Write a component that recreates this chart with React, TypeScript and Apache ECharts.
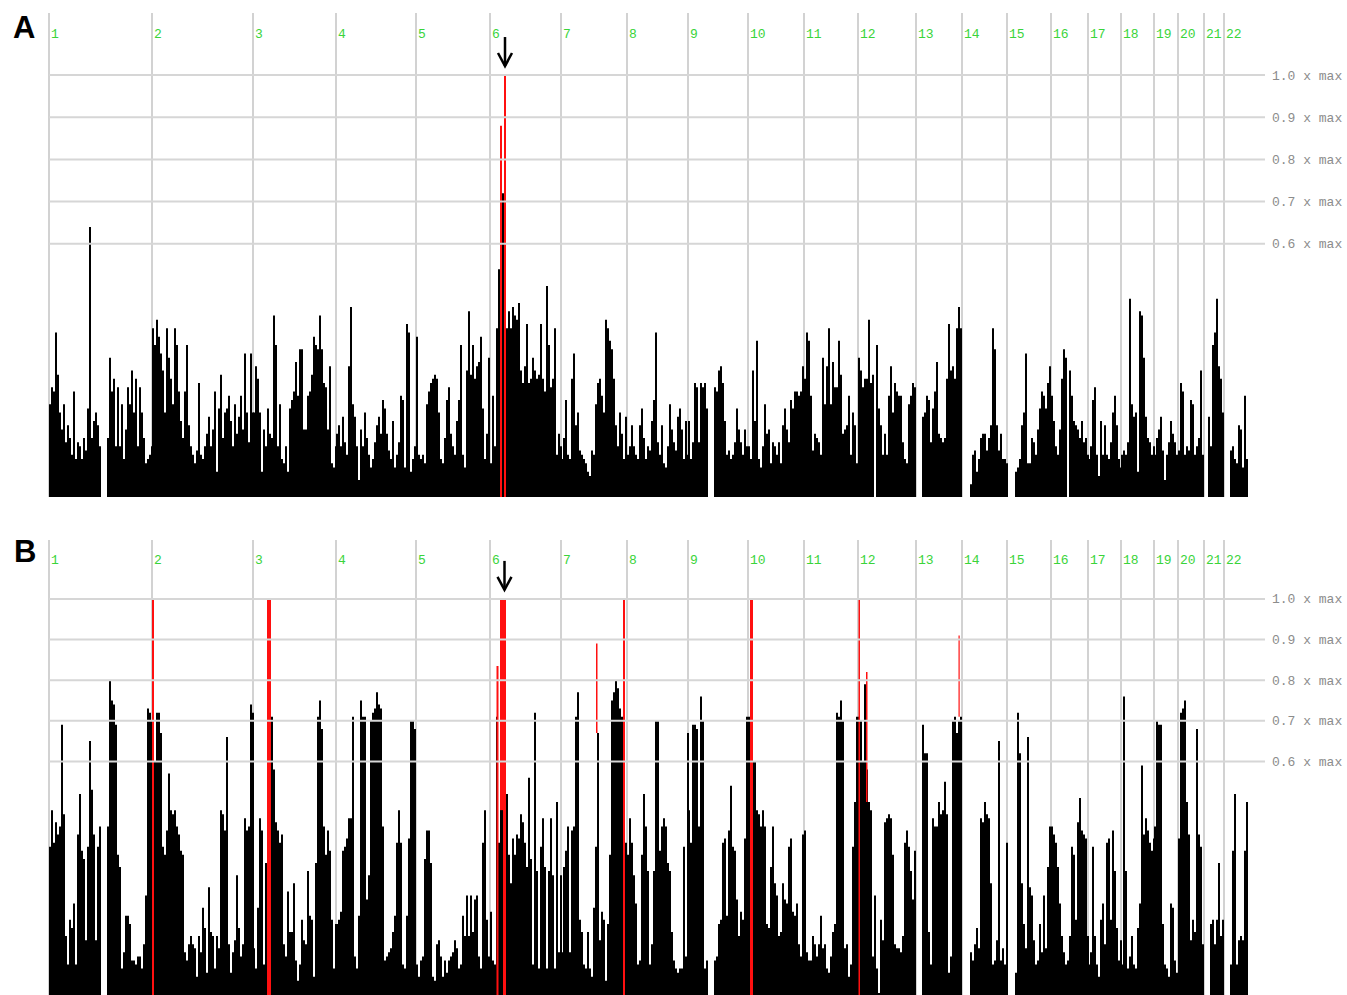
import React, { useEffect, useRef } from "react";
import * as echarts from "echarts";

// ---------- data ----------
const chromosomes = ["1","2","3","4","5","6","7","8","9","10","11","12","13","14","15","16","17","18","19","20","21","22"];
// cumulative genome position at which each chromosome starts (axis units)
const chromStarts = [49,152,253,336,416,490,561,627,688,748,804,858,916,962,1007,1051,1088,1121,1154,1178,1204,1224];
const axisStart = 49;
const axisEnd = 1265;
const markerSpacing = 2;

const thresholds = [1.0, 0.9, 0.8, 0.7, 0.6];
const thresholdLabels = ["1.0 x max", "0.9 x max", "0.8 x max", "0.7 x max", "0.6 x max"];

// Panel A: score per marker, in % of maximum (null = no data)
const scoresA: (number | null)[][] = [
  [22,26,25,39,29,20,16,22,13,17,14,10,25,9,13,12,9,14,11,21,64,14,18,20,17,12,null,null,null,14,33,25,28,12,26,12,22,9,16,26,22,30,20,28,12,26,20,14,8,9,10,12],
  [40,36,42,38,34,30,20,40,33,28,22,40,36,25,18,14,25,36,17,12,10,8,11,27,10,9,12,15,19,12,16,25,6,21,29,14,20,21,24,18,12,22,15,19,24,16,34,20,13,34,20],
  [20,31,28,20,6,16,12,21,15,14,43,36,12,22,9,8,12,6,21,23,25,32,24,35,35,16,16,24,25,29,38,36,35,43,35,27,26,16,31,8,7,12],
  [15,17,12,19,13,10,31,45,22,19,12,4,16,12,20,14,10,7,9,13,17,19,15,23,21,15,11,9,18,7,10,13,24,23,7,41,39,6,9,12],
  [38,10,9,10,8,22,25,27,28,29,28,20,9,8,14,23,26,15,12,10,18,23,36,10,7,30,44,29,36,28,31,32,38,21,9,15,33],
  [8,24,12,40,54,56,72,60,40,44,40,45,43,42,46,30,27,31,41,27,28,33,30,28,29,41,28,25,50,36,26,28,40,10,15,12],
  [9,14,23,10,9,28,34,17,20,11,10,9,8,6,5,11,10,22,27,28,24,20,42,40,37,35,28,17,12,20,15,9,19],
  [10,12,17,12,10,9,17,21,14,9,12,11,18,23,39,13,10,17,8,7,12,22,16,13,11,19,21,16,9,18,10],
  [18,9,13,27,26,13,27,26,27,21,null,null,null,26,25,30,31,27,18,10,11,9,10,13,21,16,13,10,16,12],
  [12,9,30,18,37,9,7,12,22,15,16,8,13,12,10,13,8,17,21,16,13,23,21,25,25,24,25,31],
  [28,39,37,24,11,15,14,13,10,33,22,31,40,22,32,26,26,37,29,15,16,17,24,10,20,17,8],
  [33,30,26,28,28,42,27,29,null,36,21,17,10,15,10,24,31,20,27,25,24,24,13,9,8,22,24,27,26],
  [null,null,null,19,20,24,23,13,21,25,32,15,14,13,14,28,41,30,31,28,40,45,40],
  [null,null,null,null,3,10,11,6,9,14,15,15,11,14,17,40,35,17,11,15,9,9,8],
  [null,null,null,null,6,7,9,17,20,34,8,8,14,13,10,16,21,25,24,21,27,31],
  [24,18,12,10,16,28,35,33,null,30,24,18,17,16,14,18,13,14,10],
  [9,12,23,26,10,5,18,10,17,10,9,13,20,24,17,9,7],
  [10,11,10,13,47,22,19,20,6,44,43,33,19,14,13,10,12],
  [10,14,16,19,11,4,10,13,18,15,13,10],
  [11,27,25,10,12,11,23,22,10,12,14,30,10],
  [null,null,19,12,36,39,47,31,28,20],
  [null,null,null,11,12,9,8,17,16,7,24,9],
];

// Panel B
const scoresB: (number | null)[][] = [
  [39,48,40,45,42,44,69,47,17,10,21,19,25,10,42,52,38,36,16,39,65,53,42,16,39,44,null,null,null,44,80,75,74,69,37,34,9,13,22,22,20,11,11,10,12,12,9,15,27,73,72,70],
  [40,60,72,72,67,39,37,43,57,48,47,48,44,42,38,37,13,11,15,17,15,14,7,17,13,24,19,8,29,18,17,9,17,14,48,47,43,66,15,8,13,16,32,19,12,15,46,43,44,74,72],
  [14,9,24,46,43,10,35,38,50,71,58,45,43,40,42,15,12,28,18,18,30,11,6,10,21,16,15,33,22,21,7,35,71,75,68,44,37,43,38,21,9,20],
  [20,21,23,38,39,41,46,46,71,12,9,22,75,71,71,26,32,70,72,73,77,74,73,44,11,12,13,14,18,22,40,48,40,10,9,22,41,70,70,68],
  [10,7,11,12,36,43,43,35,7,6,15,16,12,7,11,8,11,12,13,16,14,9,10,22,17,27,17,27,18,26,27,12,9,40,48,21,12],
  [23,11,10,71,40,72,72,50,52,37,30,41,37,42,41,47,45,40,34,56,36,10,72,33,9,39,46,34,9,33,46,32,9,50,13,32],
  [13,34,38,44,13,43,44,71,77,21,18,10,9,18,9,7,24,39,67,16,23,21,6,20,37,75,77,80,78,73,71,72,40],
  [37,46,40,32,25,10,11,37,52,44,33,10,15,33,70,70,38,44,46,44,35,33,18,11,9,8,9,9,39,12,67],
  [48,40,69,69,68,44,76,70,9,11,null,null,null,11,12,20,21,40,41,22,43,54,39,38,26,17,23,21,41,71],
  [71,58,60,60,48,47,44,48,44,20,19,34,44,30,27,17,18,30,26,25,39,41,23,22,25,15,12,42],
  [43,13,11,11,17,15,12,15,22,14,15,9,8,12,18,20,72,71,75,70,14,15,7,10,39,50,71],
  [71,70,60,79,58,50,48,12,27,9,3,21,16,45,46,47,46,37,15,14,14,13,17,40,43,39,33,26,38],
  [null,null,null,69,62,62,18,10,46,44,44,50,47,48,55,47,8,12,70,71,67,70,71],
  [null,null,null,null,13,11,15,19,14,46,45,50,47,46,30,10,11,16,65,11,14,10,40],
  [null,null,null,null,8,72,62,30,20,14,66,29,27,16,10,11,20,13,27,14,34,44],
  [44,42,40,34,25,17,13,10,11,17,39,37,21,45,51,43,42,41,17],
  [10,13,39,17,10,7,21,25,15,40,41,21,43,33,19,11,16],
  [10,76,33,9,12,17,10,9,19,25,59,42,46,43,40,38,41],
  [44,70,69,69,20,10,9,7,25,24,11,8],
  [41,72,73,75,50,42,16,21,18,68,42,39,15],
  [null,null,null,20,21,15,21,35,17,21],
  [null,null,null,10,38,52,10,16,17,16,38,50],
];

// highlighted (red) markers: [position, from %, to %, width]
const redA = [
  [500, 0, 88, 2],
  [504, 0, 100, 2],
];
const redB = [
  [152, 0, 100, 2],
  [267, 0, 100, 4],
  [496.5, 0, 83.5, 2],
  [500, 48, 100, 3],
  [503, 0, 100, 3],
  [596, 67, 89, 1.5],
  [623, 0, 100, 2],
  [750, 0, 100, 3],
  [858.5, 0, 100, 1.5],
  [866, 50, 82, 1.5],
  [958.5, 71, 91, 1.2],
];
const peakA = 505;
const peakB = 504.5;

// ---------- helpers ----------
function buildBars(scores: (number | null)[][]) {
  const out: number[][] = [];
  scores.forEach((chrom, c) => {
    chrom.forEach((v, i) => {
      if (v !== null && v !== undefined) out.push([chromStarts[c] + i * markerSpacing, v / 100]);
    });
  });
  return out;
}

const MONO = '"Liberation Mono", "DejaVu Sans Mono", monospace';
const LABEL_LEVEL = 1.095;

function panelSeries(g: number, scores: any, red: any, yMin: number) {
  return [
    {
      type: "custom",
      xAxisIndex: g,
      yAxisIndex: g,
      z: 1,
      silent: true,
      data: chromStarts.map((x) => [x, 0.5]),
      encode: { x: 0, y: 1 },
      renderItem: (params: any, api: any) => {
        const cs = params.coordSys;
        const x = api.coord([api.value(0), 0.5])[0];
        const ly = api.coord([api.value(0), LABEL_LEVEL])[1];
        return {
          type: "group",
          children: [
            {
              type: "line",
              shape: { x1: x, y1: cs.y, x2: x, y2: cs.y + cs.height },
              style: { stroke: "#d2d2d2", lineWidth: 2 },
            },
            {
              type: "text",
              x: x + 2,
              y: ly,
              style: {
                text: chromosomes[params.dataIndex],
                fill: "#3ad43a",
                font: `13px ${MONO}`,
                verticalAlign: "middle",
                align: "left",
              },
            },
          ],
        };
      },
    },
    {
      type: "custom",
      xAxisIndex: g,
      yAxisIndex: g,
      z: 2,
      silent: true,
      data: buildBars(scores),
      encode: { x: 0, y: 1 },
      renderItem: (params: any, api: any) => {
        const x = api.value(0);
        const v = api.value(1);
        const p0 = api.coord([x, yMin]);
        const p1 = api.coord([x + markerSpacing, v]);
        return {
          type: "rect",
          shape: { x: p0[0], y: p1[1], width: p1[0] - p0[0], height: p0[1] - p1[1] },
          style: { fill: "#000" },
        };
      },
    },
    {
      type: "custom",
      xAxisIndex: g,
      yAxisIndex: g,
      z: 3,
      silent: true,
      data: red.map((r: number[]) => [r[0], r[1] / 100, r[2] / 100, r[3]]),
      encode: { x: 0, y: [1, 2] },
      renderItem: (params: any, api: any) => {
        const x = api.value(0);
        const lo = Math.max(api.value(1), yMin);
        const hi = api.value(2);
        const w = api.value(3);
        const p0 = api.coord([x, lo]);
        const p1 = api.coord([x + w, hi]);
        return {
          type: "rect",
          shape: { x: p0[0], y: p1[1], width: p1[0] - p0[0], height: p0[1] - p1[1] },
          style: { fill: "#ff1010" },
        };
      },
    },
    {
      type: "custom",
      xAxisIndex: g,
      yAxisIndex: g,
      z: 4,
      silent: true,
      data: thresholds.map((t) => [axisStart, t]),
      encode: { x: 0, y: 1 },
      renderItem: (params: any, api: any) => {
        const cs = params.coordSys;
        const y = api.coord([axisStart, api.value(1)])[1];
        return {
          type: "group",
          children: [
            {
              type: "line",
              shape: { x1: cs.x, y1: y, x2: cs.x + cs.width, y2: y },
              style: { stroke: "#d6d6d6", lineWidth: 2 },
            },
            {
              type: "text",
              x: cs.x + cs.width + 7,
              y: y + 1,
              style: {
                text: thresholdLabels[params.dataIndex],
                fill: "#8c8c8c",
                font: `13px ${MONO}`,
                verticalAlign: "middle",
                align: "left",
              },
            },
          ],
        };
      },
    },
  ];
}

export default function App() {
  const ref = useRef<HTMLDivElement>(null);

  useEffect(() => {
    if (!ref.current) return;
    const chart = echarts.init(ref.current, null, { renderer: "svg" });
    const yMinA = 0, yMaxA = 1.147;
    const yMinB = 0.025, yMaxB = 1.145;
    chart.setOption({
      animation: false,
      grid: [
        { left: axisStart, width: axisEnd - axisStart, top: 13, height: 484 },
        { left: axisStart, width: axisEnd - axisStart, top: 540, height: 455 },
      ],
      xAxis: [
        { type: "value", gridIndex: 0, min: axisStart, max: axisEnd, show: false },
        { type: "value", gridIndex: 1, min: axisStart, max: axisEnd, show: false },
      ],
      yAxis: [
        { type: "value", gridIndex: 0, min: yMinA, max: yMaxA, show: false },
        { type: "value", gridIndex: 1, min: yMinB, max: yMaxB, show: false },
      ],
      series: [
        ...panelSeries(0, scoresA, redA, yMinA),
        ...panelSeries(1, scoresB, redB, yMinB),
      ],
    });

    const arrow = (px: number[]) => {
      const x = px[0];
      const tip = px[1] - 9;
      const top = px[1] - 38;
      return [
        { type: "line", shape: { x1: x, y1: top, x2: x, y2: tip }, style: { stroke: "#000", lineWidth: 2.5 } },
        {
          type: "polyline",
          shape: { points: [[x - 7, tip - 13], [x, tip], [x + 7, tip - 13]] },
          style: { stroke: "#000", lineWidth: 2.5, fill: null },
        },
      ];
    };
    const pa = chart.convertToPixel({ gridIndex: 0 } as any, [peakA, 1.0]) as number[];
    const pb = chart.convertToPixel({ gridIndex: 1 } as any, [peakB, 1.0]) as number[];
    chart.setOption({
      graphic: [
        {
          type: "text",
          left: 13,
          top: 12,
          style: { text: "A", font: 'bold 31px "Liberation Sans", Arial, sans-serif', fill: "#000" },
        },
        {
          type: "text",
          left: 14,
          top: 536,
          style: { text: "B", font: 'bold 31px "Liberation Sans", Arial, sans-serif', fill: "#000" },
        },
        ...arrow(pa),
        ...arrow(pb),
      ],
    });

    return () => chart.dispose();
  }, []);

  return (
    <div
      ref={ref}
      style={{ position: "fixed", left: 0, top: 0, width: 1347, height: 995, background: "#fff" }}
    />
  );
}
